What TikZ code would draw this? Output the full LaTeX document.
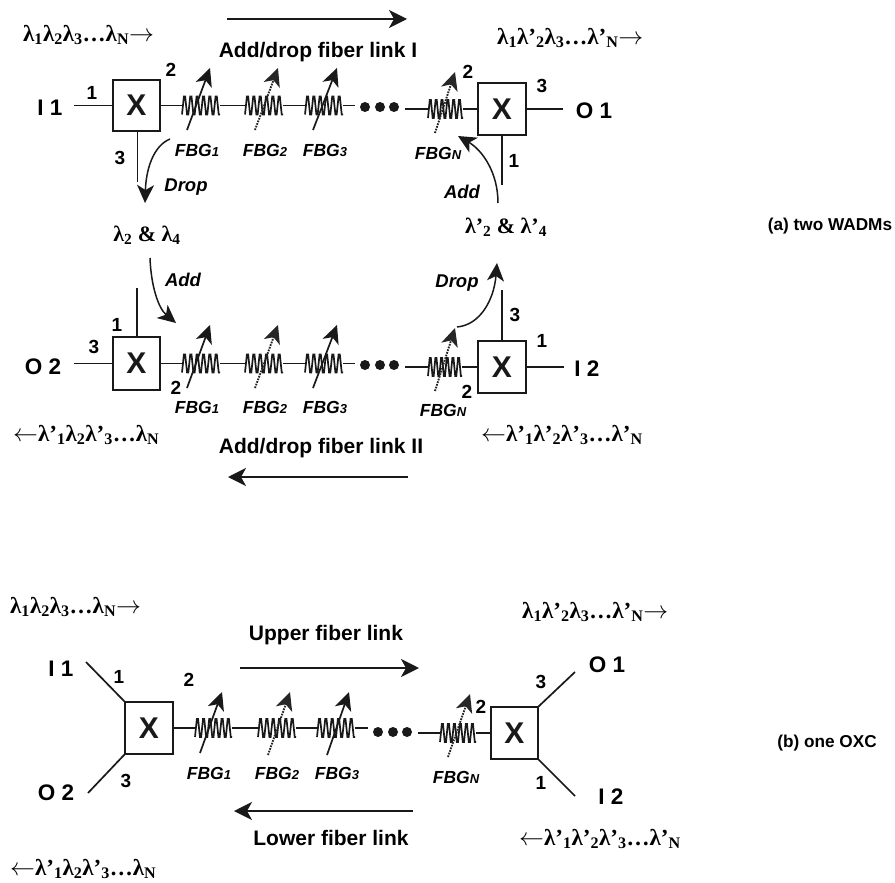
\documentclass[tikz,border=0pt]{standalone}
\usepackage{fontspec}
\setmainfont{Liberation Sans}
\newfontfamily\serifb{Liberation Serif}[BoldFont={Liberation Serif Bold}]
\usetikzlibrary{arrows.meta}
\newcommand\ls[1]{\textsubscript{#1}}
\newcommand\symbolarrowr{$\rightarrow$}
\newcommand\symbolarrowl{$\leftarrow$}
\tikzset{
  x=1pt,y=-1pt,
  wire/.style={line width=1.7pt,black!90},
  boxx/.style={draw,line width=1.9pt,black!90,minimum width=47pt,minimum height=51pt,inner sep=0pt,outer sep=0pt,font=\fontsize{30}{30}\selectfont\bfseries},
  grat/.style={minimum height=18pt,inner sep=0pt,outer sep=0pt},
  gratline/.style={line width=1.7pt,black!90,line join=miter},
  bigarrow/.style={line width=1.6pt,black!90,-{Stealth[length=18pt,width=18pt,inset=5pt]}},
  tunearrow/.style={line width=1.7pt,black!90,-{Stealth[length=18pt,width=17pt,inset=5pt]}},
  tunedot/.style={line width=1.9pt,black!85,dash pattern=on 1.7pt off 1.1pt,-{Stealth[length=18pt,width=17pt,inset=5pt]}},
  curvearrow/.style={line width=1.5pt,black!90,-{Stealth[length=18pt,width=17pt,inset=5pt]}},
  termlab/.style={inner sep=0pt,font=\fontsize{22.5}{22.5}\selectfont\bfseries},
  portlab/.style={inner sep=0pt,font=\fontsize{19}{19}\selectfont\bfseries},
  fbglab/.style={inner sep=0pt,font=\fontsize{17.5}{17.5}\selectfont\bfseries\itshape},
  actlab/.style={inner sep=0pt,font=\fontsize{18.5}{18.5}\selectfont\bfseries\itshape},
  linklab/.style={inner sep=0pt,font=\fontsize{21}{21}\selectfont\bfseries},
  sidelab/.style={inner sep=0pt,font=\fontsize{17.2}{17.2}\selectfont\bfseries},
  wavelab/.style={inner sep=0pt,font=\fontsize{22}{22}\serifb\bfseries},
  waveline/.style={inner sep=0pt,anchor=west,font=\fontsize{23}{23}\serifb\bfseries},
  dotn/.style={circle,fill=black!90,minimum size=10pt,inner sep=0pt,outer sep=0pt},
}
\newcommand\fs[2]{#1{\fontsize{13}{13}\selectfont #2}}
% name, x-left, y-centre, width
\newcommand\grating[4]{%
  \node[grat,minimum width=#4pt,anchor=west] (#1) at (#2,#3) {};
  \pgfmathsetmacro\gp{#4/6}
  \draw[gratline] (#1.south west) \foreach \i in {1,...,6}{ -- ++(\gp*.3,-18) -- ++(\gp*.2,0) -- ++(\gp*.3,18) -- ++(\gp*.2,0)};
}
% name, style, from, to
\newcommand\tune[6]{%
  \coordinate (#1a) at (#3,#4);
  \coordinate (#1b) at (#5,#6);
  \draw[#2] (#1a) -- (#1b);
}
\begin{document}
\begin{tikzpicture}
\useasboundingbox (0,0) rectangle (895,883);
%%%%% panel (a), upper link
\node[boxx] (xa) at (136.5,105.5) {X};
\node[boxx,minimum width=48pt,minimum height=52pt] (xb) at (502,109) {X};
\node[termlab] (i1) at (50,108) {I 1};
\node[termlab] (o1) at (594,111) {O 1};
\coordinate (i1e) at (74,105.5);
\coordinate (o1w) at (563,109);
\draw[wire] (i1e) -- (xa.west);
\draw[wire] (xb.east) -- (o1w);
\grating{ga1}{182}{105.5}{38}
\grating{ga2}{245}{105.5}{38}
\grating{ga3}{305}{105.5}{38}
\grating{gan}{428}{109}{35}
\draw[wire] (xa.east) -- (ga1.west);
\draw[wire] (ga1.east) -- (ga2.west);
\draw[wire] (ga2.east) -- (ga3.west);
\node[dotn] (da1) at (365,107) {};
\node[dotn] (da2) at (380,107) {};
\node[dotn] (da3) at (394,107) {};
\coordinate (da0) at (355,105.5);
\draw[wire] (ga3.east) -- (da0);
\coordinate (da4) at (405,109);
\draw[wire] (da4) -- (gan.west);
\draw[wire] (gan.east) -- (xb.west);
\tune{ta1}{tunearrow}{187}{130}{210}{68}
\tune{ta2}{tunedot}{255}{130}{278}{68}
\tune{ta3}{tunearrow}{313}{130}{337}{68}
\tune{tan}{tunedot}{435}{133}{455}{72}
\node[fbglab] (fa1) at (197,150) {\fs{FBG}{1}};
\node[fbglab] (fa2) at (265,150) {\fs{FBG}{2}};
\node[fbglab] (fa3) at (325,150) {\fs{FBG}{3}};
\node[fbglab] (fan) at (438,153) {\fs{FBG}{N}};
\node[portlab] (pa1) at (92,93) {1};
\node[portlab] (pa2) at (171,70) {2};
\node[portlab] (pa3) at (120,158) {3};
\node[portlab] (pb2) at (468,72) {2};
\node[portlab] (pb3) at (542,86) {3};
\node[portlab] (pb1) at (514,161) {1};
\coordinate (xad) at (137.5,182);
\draw[wire] (xa.south -| xad) -- (xad);
\coordinate (xbd) at (502,185);
\draw[wire] (xb.south) -- (xbd);
\coordinate (dr1a) at (170,139);
\coordinate (dr1b) at (145,203);
\draw[curvearrow] (dr1a) .. controls (153,146) and (146,170) .. (dr1b);
\coordinate (ad1a) at (498,203);
\coordinate (ad1b) at (458,136);
\draw[curvearrow] (ad1a) .. controls (498,172) and (482,150) .. (ad1b);
\node[actlab] (drop1) at (186,187) {Drop};
\node[actlab] (add1) at (462,192) {Add};
\node[wavelab] (l24) at (147,235) {λ\ls{2} \& λ\ls{4}};
\node[wavelab] (lp24) at (506,227) {λ’\ls{2} \& λ’\ls{4}};
\coordinate (ca) at (227,19);
\coordinate (cb) at (407,19);
\draw[bigarrow] (ca) -- (cb);
\node[linklab] (capi) at (318,52) {Add/drop fiber link I};
\node[waveline] (wa1) at (23,35) {λ\ls{1}λ\ls{2}λ\ls{3}\ldots λ\ls{N}\symbolarrowr};
\node[waveline] (wa2) at (497,38) {λ\ls{1}λ’\ls{2}λ\ls{3}\ldots λ’\ls{N}\symbolarrowr};
%%%%% panel (a), lower link
\node[boxx,minimum height=53pt] (xc) at (136.5,363.5) {X};
\node[boxx,minimum width=48pt,minimum height=52pt] (xd) at (502,367) {X};
\node[termlab] (o2) at (43,367) {O 2};
\node[termlab] (i2) at (587,369) {I 2};
\coordinate (o2e) at (74,363.5);
\coordinate (i2w) at (564,367);
\draw[wire] (o2e) -- (xc.west);
\draw[wire] (xd.east) -- (i2w);
\grating{gc1}{182}{363.5}{38}
\grating{gc2}{245}{363.5}{38}
\grating{gc3}{305}{363.5}{38}
\grating{gcn}{428}{367}{34}
\draw[wire] (xc.east) -- (gc1.west);
\draw[wire] (gc1.east) -- (gc2.west);
\draw[wire] (gc2.east) -- (gc3.west);
\node[dotn] (dc1) at (365,365) {};
\node[dotn] (dc2) at (380,365) {};
\node[dotn] (dc3) at (394,365) {};
\coordinate (dc0) at (355,363.5);
\draw[wire] (gc3.east) -- (dc0);
\coordinate (dc4) at (405,367);
\draw[wire] (dc4) -- (gcn.west);
\draw[wire] (gcn.east) -- (xd.west);
\tune{tc1}{tunearrow}{187}{388}{210}{325}
\tune{tc2}{tunedot}{255}{388}{278}{325}
\tune{tc3}{tunearrow}{313}{388}{337}{325}
\tune{tcn}{tunedot}{435}{391}{455}{328}
\node[fbglab] (fc1) at (197,407) {\fs{FBG}{1}};
\node[fbglab] (fc2) at (265,407) {\fs{FBG}{2}};
\node[fbglab] (fc3) at (325,407) {\fs{FBG}{3}};
\node[fbglab] (fcn) at (443,410) {\fs{FBG}{N}};
\node[portlab] (pc1) at (117,325) {1};
\node[portlab] (pc3) at (94,347) {3};
\node[portlab] (pc2) at (176,388) {2};
\node[portlab] (pd3) at (515,315) {3};
\node[portlab] (pd1) at (542,341) {1};
\node[portlab] (pd2) at (467,392) {2};
\coordinate (xcu) at (137,288);
\draw[wire] (xc.north -| xcu) -- (xcu);
\coordinate (xdu) at (502,290);
\draw[wire] (xd.north) -- (xdu);
\coordinate (ad2a) at (150,258);
\coordinate (ad2b) at (176,323);
\draw[curvearrow] (ad2a) .. controls (151,285) and (158,308) .. (ad2b);
\coordinate (dr2a) at (457,327);
\coordinate (dr2b) at (497,263);
\draw[curvearrow] (dr2a) .. controls (480,325) and (494,300) .. (dr2b);
\node[actlab] (add2) at (183,280) {Add};
\node[actlab] (drop2) at (457,283) {Drop};
\coordinate (cc) at (408,477);
\coordinate (cd) at (228,477);
\draw[bigarrow] (cc) -- (cd);
\node[linklab] (capii) at (321,448) {Add/drop fiber link II};
\node[waveline] (wc1) at (13,435) {\symbolarrowl λ’\ls{1}λ\ls{2}λ’\ls{3}\ldots λ\ls{N}};
\node[waveline] (wc2) at (481,435) {\symbolarrowl λ’\ls{1}λ’\ls{2}λ’\ls{3}\ldots λ’\ls{N}};
\node[sidelab] (sa) at (830,226) {(a) two WADMs};
%%%%% panel (b)
\node[boxx,minimum width=48pt,minimum height=52pt] (xe) at (149,728) {X};
\node[boxx,minimum width=47pt,minimum height=52pt] (xf) at (514.5,733) {X};
\node[termlab] (bi1) at (61,669) {I 1};
\node[termlab] (bo2) at (56,793) {O 2};
\node[termlab] (bo1) at (607,665) {O 1};
\node[termlab] (bi2) at (611,797) {I 2};
\coordinate (ei1) at (86,662);
\coordinate (eo2) at (88,793);
\coordinate (fo1) at (575,672);
\coordinate (fi2) at (575,796);
\draw[wire] (ei1) -- (xe.north west);
\draw[wire] (eo2) -- (xe.south west);
\draw[wire] (xf.north east) -- (fo1);
\draw[wire] (xf.south east) -- (fi2);
\grating{ge1}{195}{728}{37}
\grating{ge2}{258}{728}{38}
\grating{ge3}{317}{728}{38}
\grating{gen}{440}{733}{36}
\draw[wire] (xe.east) -- (ge1.west);
\draw[wire] (ge1.east) -- (ge2.west);
\draw[wire] (ge2.east) -- (ge3.west);
\node[dotn] (de1) at (378,732) {};
\node[dotn] (de2) at (393,732) {};
\node[dotn] (de3) at (407,732) {};
\coordinate (de0) at (368,728);
\draw[wire] (ge3.east) -- (de0);
\coordinate (de4) at (418,733);
\draw[wire] (de4) -- (gen.west);
\draw[wire] (gen.east) -- (xf.west);
\tune{te1}{tunearrow}{200}{753}{222}{692}
\tune{te2}{tunedot}{268}{755}{290}{692}
\tune{te3}{tunearrow}{327}{755}{349}{692}
\tune{ten}{tunedot}{448}{757}{470}{694}
\node[fbglab] (fe1) at (209,773) {\fs{FBG}{1}};
\node[fbglab] (fe2) at (277,773) {\fs{FBG}{2}};
\node[fbglab] (fe3) at (337,773) {\fs{FBG}{3}};
\node[fbglab] (fen) at (456,777) {\fs{FBG}{N}};
\node[portlab] (pe1) at (119,677) {1};
\node[portlab] (pe2) at (189,680) {2};
\node[portlab] (pe3) at (126,781) {3};
\node[portlab] (pf2) at (481,707) {2};
\node[portlab] (pf3) at (541,682) {3};
\node[portlab] (pf1) at (541,783) {1};
\coordinate (ua) at (240,668);
\coordinate (ub) at (419,668);
\draw[bigarrow] (ua) -- (ub);
\coordinate (la) at (413,811);
\coordinate (lb) at (234,811);
\draw[bigarrow] (la) -- (lb);
\node[linklab] (capu) at (326,635) {Upper fiber link};
\node[linklab] (capl) at (331,838) {Lower fiber link};
\node[waveline] (we1) at (10,607) {λ\ls{1}λ\ls{2}λ\ls{3}\ldots λ\ls{N}\symbolarrowr};
\node[waveline] (we2) at (522,612) {λ\ls{1}λ’\ls{2}λ\ls{3}\ldots λ’\ls{N}\symbolarrowr};
\node[waveline] (we3) at (10,869) {\symbolarrowl λ’\ls{1}λ\ls{2}λ’\ls{3}\ldots λ\ls{N}};
\node[waveline] (we4) at (519,839) {\symbolarrowl λ’\ls{1}λ’\ls{2}λ’\ls{3}\ldots λ’\ls{N}};
\node[sidelab] (sb) at (827,743) {(b) one OXC};
\end{tikzpicture}
\end{document}
